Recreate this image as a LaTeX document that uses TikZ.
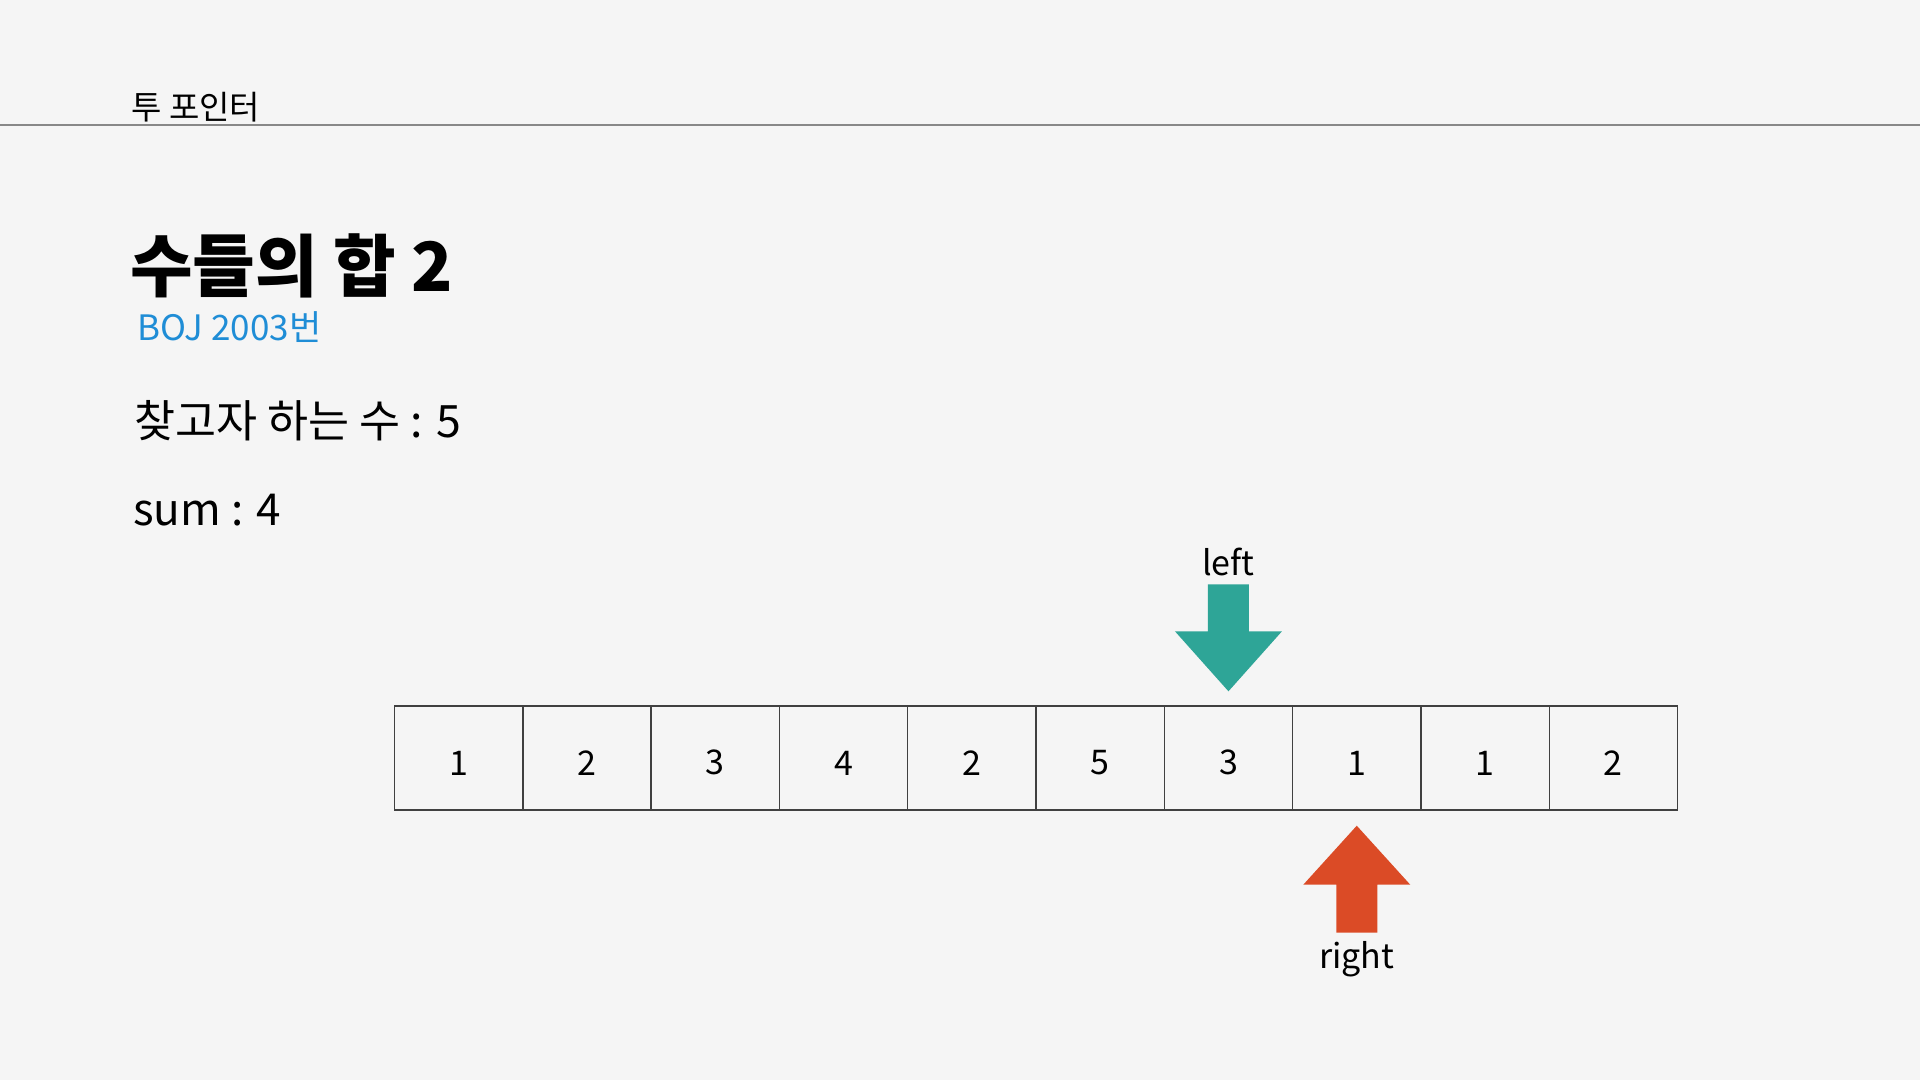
\documentclass[tikz,border=0pt]{standalone}
\usepackage{fontspec}
\setmainfont{Noto Sans CJK KR}
\usepackage{xcolor}
\usetikzlibrary{positioning}
\definecolor{bgcol}{HTML}{F5F5F5}
\definecolor{linecol}{HTML}{888888}
\definecolor{bojblue}{HTML}{1F8DD6}
\definecolor{leftcol}{HTML}{2EA597}
\definecolor{rightcol}{HTML}{DB4B26}

\begin{document}
\begin{tikzpicture}[x=0.5pt,y=-0.5pt]
  \tikzset{cell/.style = {shape=rectangle,draw=black!75,line width=0.7pt,minimum width=64.15pt,minimum height=52pt,inner sep=0pt,text height=17pt,font=\fontsize{17}{17}\selectfont}}
  \tikzset{txt/.style = {anchor=base west,inner sep=0pt}}
  \tikzset{ptrlabel/.style = {inner sep=0pt,font=\fontsize{17}{17}\selectfont}}

	\fill[bgcol] (0,0) rectangle (1920,1080);
	\useasboundingbox (0,0) rectangle (1920,1080);

	% header
	\draw[linecol,line width=1.3pt] (0,125) -- (1920,125);
	\node[txt,font=\fontsize{16.5}{16.5}\selectfont] (head) at (131,120) {투 포인터};

	\node[txt,font=\fontsize{34}{34}\selectfont\bfseries] (title) at (130,292) {수들의 합 2};
	\node[txt,text=bojblue,font=\fontsize{17.5}{17.5}\selectfont] (boj) at (137,341) {BOJ 2003번};
	\node[txt,font=\fontsize{22.3}{22.3}\selectfont] (target) at (134,437) {찾고자 하는 수 : 5};
	\node[txt,font=\fontsize{22}{22}\selectfont] (sum) at (133,525) {sum : 4};

	% array
    \foreach \v [count=\i] in {1,2,3,4,2,5,3,1,1,2}
    \node[cell] (c\i) at ({394.5+128.3*\i-64.15},758) {\v};

	% left pointer
	\coordinate (ltip) at ([yshift=7pt]c7.north);
	\fill[leftcol] (ltip) -- ++(-53.5,-60) -- ++(33,0) -- ++(0,-47) -- ++(41,0) -- ++(0,47) -- ++(33,0) -- cycle;
	\node[ptrlabel,anchor=base] (lleft) at ([yshift=58pt]ltip) {left};

	% right pointer
	\coordinate (rtip) at ([yshift=-7.5pt]c8.south);
	\fill[rightcol] (rtip) -- ++(-53.5,59) -- ++(33,0) -- ++(0,48) -- ++(41,0) -- ++(0,-48) -- ++(33,0) -- cycle;
	\node[ptrlabel,anchor=base] (lright) at ([yshift=-71.5pt]rtip) {right};

\end{tikzpicture}
\end{document}
